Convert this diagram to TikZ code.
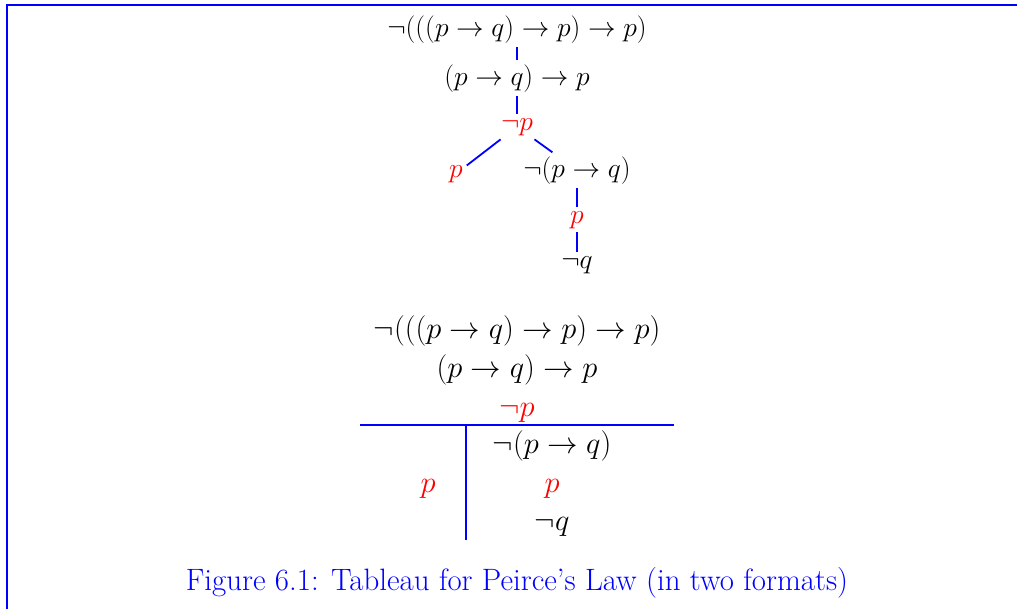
\documentclass[tikz,border=0pt]{standalone}
\newcommand\TreeF[1]{\scalebox{1.33}{$#1$}}
\newcommand\TabF[1]{\scalebox{1.47}{$#1$}}
\begin{document}
\begin{tikzpicture}[x=1pt,y=-1pt,
  frm/.style={blue, line width=2pt},
  edge/.style={blue, line width=1.8pt},
  tf/.style={anchor=base, inner sep=0pt, outer sep=4pt, font=\fontsize{20}{24}\selectfont},
  bf/.style={anchor=base, inner sep=0pt, font=\fontsize{20}{24}\selectfont},
  hl/.style={text=red},
  capt/.style={anchor=base, inner sep=0pt, text=blue, font=\fontsize{30.9}{36}\selectfont}]
\useasboundingbox (0,0) rectangle (1017,608);
\clip (0,0) rectangle (1017,608);
% frame
\draw[frm] (7,610) -- (7,5) -- (1020,5);
% tree format
\node[tf] (n1) at (517,36) {\TreeF{\neg(((p\to q)\to p)\to p)}};
\node[tf] (n2) at (517,85) {\TreeF{(p\to q)\to p}};
\node[tf,hl] (n3) at (517,130) {\TreeF{\neg p}};
\node[tf,hl] (n4) at (456,177) {\TreeF{p}};
\node[tf] (n5) at (577,177) {\TreeF{\neg(p\to q)}};
\node[tf,hl] (n6) at (577,223) {\TreeF{p}};
\node[tf] (n7) at (577,268) {\TreeF{\neg q}};
\draw[edge] (n1) -- (n2);
\draw[edge] (n2) -- (n3);
\draw[edge] (n3) -- (n4);
\draw[edge] (n3) -- (n5);
\draw[edge] (n5) -- (n6);
\draw[edge] (n6) -- (n7);
% table format
\node[bf] (m1) at (517,338) {\TabF{\neg(((p\to q)\to p)\to p)}};
\node[bf] (m2) at (517,377) {\TabF{(p\to q)\to p}};
\node[bf,hl] (m3) at (517,416) {\TabF{\neg p}};
\node[bf] (m4) at (552,453) {\TabF{\neg(p\to q)}};
\node[bf,hl] (m5) at (428,492) {\TabF{p}};
\node[bf,hl] (m6) at (552,492) {\TabF{p}};
\node[bf] (m7) at (552,530) {\TabF{\neg q}};
\draw[edge] (360,425) -- (674,425);
\draw[edge] (466,425) -- (466,540);
% caption
\node[capt] (cap) at (517,590) {Figure 6.1: Tableau for Peirce’s Law (in two formats)};
\end{tikzpicture}
\end{document}
